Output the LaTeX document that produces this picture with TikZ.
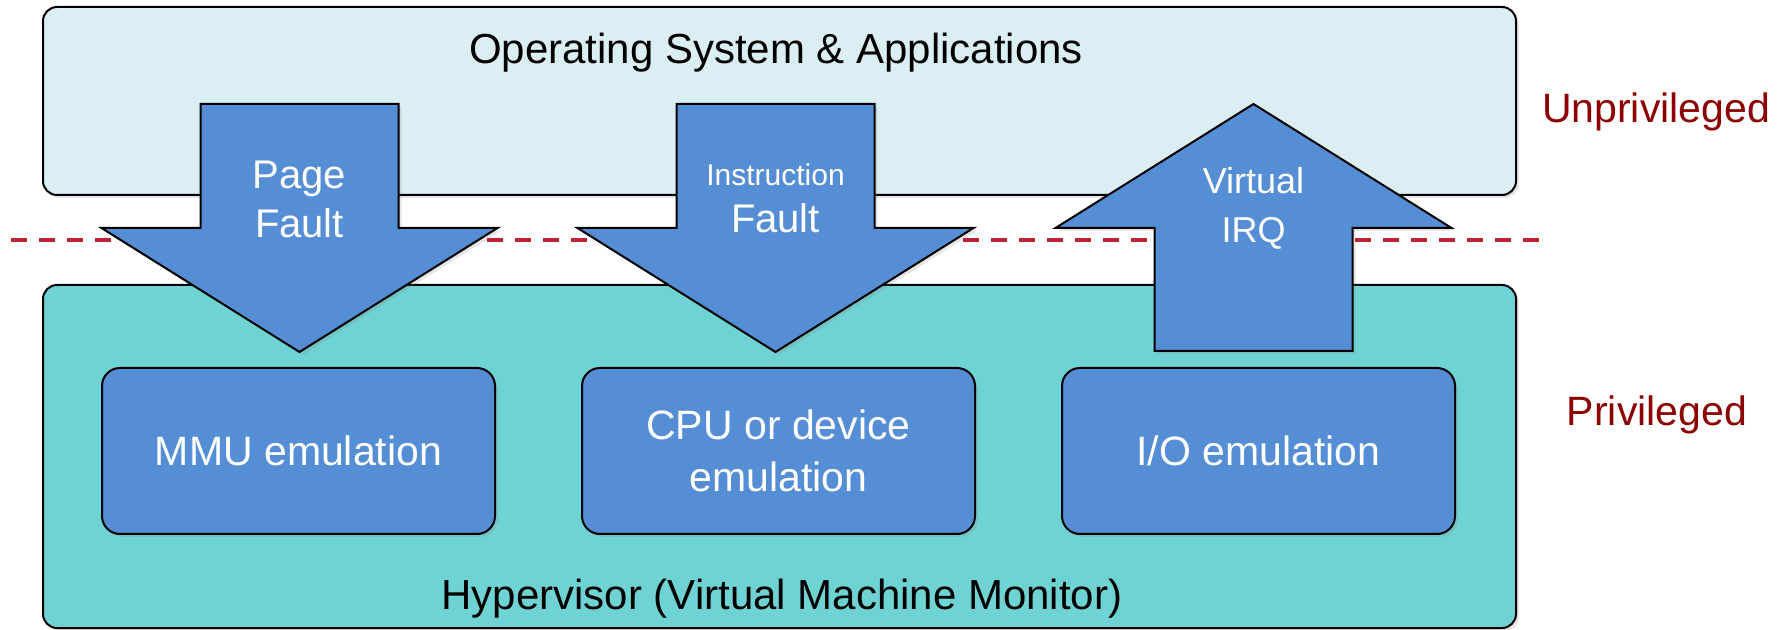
\documentclass[tikz,border=0pt]{standalone}
\usepackage{fontspec}
\setmainfont{Liberation Sans}
\usepackage{tikz}
\usetikzlibrary{positioning,shadows}

\definecolor{osfill}{RGB}{219,238,243}
\definecolor{hvfill}{RGB}{112,211,211}
\definecolor{emublue}{RGB}{85,142,213}
\definecolor{linered}{RGB}{192,32,58}
\definecolor{levelred}{RGB}{140,0,0}

\begin{document}
\begin{tikzpicture}[x=0.5pt, y=-0.5pt, node distance=42.5pt,
    softshadow/.style={drop shadow={shadow xshift=1.5pt, shadow yshift=-1.5pt, opacity=0.2}},
    layer/.style={draw=black, line width=1pt, rounded corners=7pt, minimum width=736.5pt, softshadow},
    emu/.style={draw=black, line width=1pt, fill=emublue, rounded corners=9pt, minimum width=196.5pt,
        minimum height=83pt, text=white, align=center, font=\fontsize{20.5}{26}\selectfont, softshadow},
    bigarrow/.style={draw=black, line width=1pt, fill=emublue, line join=miter, softshadow},
    arrowtext/.style={text=white, align=center, inner sep=0pt},
    title/.style={font=\fontsize{21}{25}\selectfont},
    level/.style={text=levelred, font=\fontsize{20.5}{25}\selectfont},
    privline/.style={draw=linered, line width=2pt, dash pattern=on 8pt off 6pt}]

    \useasboundingbox (0,0) rectangle (1789,630);

    % boundary between the two levels
    \coordinate (dl) at (11,240);
    \coordinate (dr) at (1539,240);
    \draw[privline] (dl) -- (dr);

    % the two layers
    \node[layer, fill=osfill, minimum height=94pt] (os) at (779.5,101) {};
    \node[layer, fill=hvfill, minimum height=171.5pt] (hv) at (779.5,456.5) {};
    \node[title] (ostext) at (776,53) {Operating System \& Applications};
    \node[title] (hvtext) at (782,599) {Hypervisor (Virtual Machine Monitor)};

    % emulation blocks
    \node[emu] (mmu) at (298.5,451) {MMU emulation};
    \node[emu, right=of mmu] (cpu) {CPU or device\\emulation};
    \node[emu, right=of cpu] (io) {I/O emulation};

    % traps down into the hypervisor
    \foreach \cx in {299.5,775.5}
        \draw[bigarrow] (\cx-99,104) -- (\cx+99,104) -- (\cx+99,228) -- (\cx+198,228)
            -- (\cx,352) -- (\cx-198,228) -- (\cx-99,228) -- cycle;

    % interrupt back up
    \draw[bigarrow] (1253.5-99,351) -- (1253.5+99,351) -- (1253.5+99,228) -- (1253.5+198,228)
        -- (1253.5,104) -- (1253.5-198,228) -- (1253.5-99,228) -- cycle;

    \node[arrowtext, font=\fontsize{20}{24.5}\selectfont] (pf) at (299.5,199) {Page\\Fault};
    \node[arrowtext, font=\fontsize{20}{23.5}\selectfont] (inf) at (775.5,198.5)
        {{\fontsize{15}{18}\selectfont Instruction}\\Fault};
    \node[arrowtext, font=\fontsize{18}{24.5}\selectfont] (irq) at (1253.5,208.5) {Virtual\\IRQ};

    % privilege levels
    \node[level] (unpriv) at (1656,112) {Unprivileged};
    \node[level] (priv) at (1657,415) {Privileged};

\end{tikzpicture}
\end{document}
